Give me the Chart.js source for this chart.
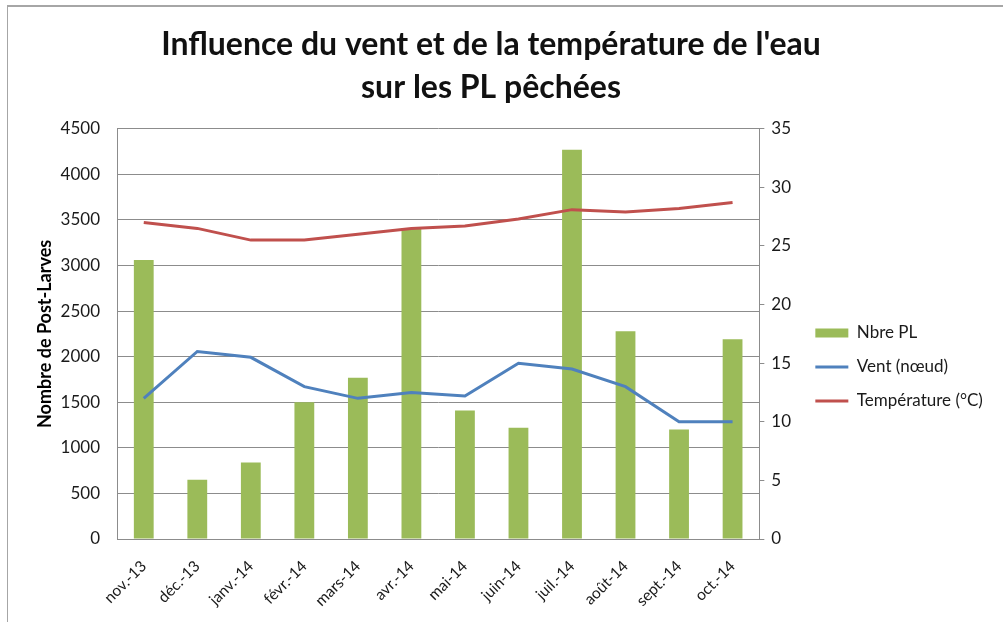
<!DOCTYPE html>
<html>
<head>
<meta charset="utf-8">
<script src="https://cdn.jsdelivr.net/npm/chart.js@4"></script>
<style>
  html, body { margin: 0; padding: 0; background: #fff; }
  #wrap { position: relative; width: 1003px; height: 622px; }
  #frame { position: absolute; left: 7px; top: 5px; right: 0; bottom: 0;
           border-top: 2px solid #a6a6a6; border-left: 1px solid #a6a6a6; }
  canvas { position: absolute; left: 0; top: 0; }
</style>
</head>
<body>
<div id="wrap">
  <div id="frame"></div>
  <canvas id="chart" width="1003" height="622"></canvas>
</div>
<script>
var months = ['nov.-13', 'déc.-13', 'janv.-14', 'févr.-14', 'mars-14', 'avr.-14',
              'mai-14', 'juin-14', 'juil.-14', 'août-14', 'sept.-14', 'oct.-14'];
var nbrePL = [3060, 650, 840, 1500, 1770, 3410, 1410, 1220, 4270, 2280, 1200, 2190];
var vent = [12, 16, 15.5, 13, 12, 12.5, 12.2, 15, 14.5, 13, 10, 10];
var temperature = [27, 26.5, 25.5, 25.5, 26, 26.5, 26.7, 27.3, 28.1, 27.9, 28.2, 28.7];

var green = '#9bbb59';
var blue = '#4f81bd';
var red = '#c0504d';
var gridColor = '#8c8c8c';
var textColor = '#1a1a1a';
var font = 'Lato, "Open Sans", sans-serif';

var plainNumber = function(value) { return String(value); };

// the legend box is capped narrow by the layout, let it draw up to the canvas edge
var legendFullWidth = {
  id: 'legendFullWidth',
  afterLayout: function(chart) {
    if (chart.legend) {
      chart.legend.right = chart.width;
    }
  }
};

var ctx = document.getElementById('chart').getContext('2d');
var chart = new Chart(ctx, {
  data: {
    labels: months,
    datasets: [
      {
        type: 'bar',
        label: 'Nbre PL',
        data: nbrePL,
        backgroundColor: green,
        borderWidth: 0,
        yAxisID: 'y',
        barPercentage: 0.37,
        categoryPercentage: 1,
        order: 2,
        pointStyle: 'rect'
      },
      {
        type: 'line',
        label: 'Vent (nœud)',
        data: vent,
        borderColor: blue,
        backgroundColor: blue,
        borderWidth: 3,
        pointRadius: 0,
        tension: 0,
        yAxisID: 'y1',
        order: 1,
        pointStyle: 'line'
      },
      {
        type: 'line',
        label: 'Température (°C)',
        data: temperature,
        borderColor: red,
        backgroundColor: red,
        borderWidth: 3,
        pointRadius: 0,
        tension: 0,
        yAxisID: 'y1',
        order: 0,
        pointStyle: 'line'
      }
    ]
  },
  plugins: [legendFullWidth],
  options: {
    responsive: false,
    animation: false,
    layout: { padding: { left: 30, top: 10, right: 51, bottom: 0 } },
    plugins: {
      title: {
        display: true,
        text: ["Influence du vent et de la température de l'eau", 'sur les PL pêchées'],
        color: '#111',
        font: { family: font, size: 32, weight: 'bold', lineHeight: 1.34 },
        padding: { top: 13.5, bottom: 19.5 }
      },
      legend: {
        position: 'right',
        // empty legend title only pushes the items down to sit beside the plot
        title: { display: true, text: '', font: { size: 10, lineHeight: 1 }, padding: { top: 92, bottom: 0 } },
        labels: {
          usePointStyle: true,
          pointStyleWidth: 33,
          boxHeight: 9,
          padding: 17,
          color: textColor,
          font: { family: font, size: 17 },
          sort: function(a, b) { return a.datasetIndex - b.datasetIndex; }
        }
      },
      tooltip: { enabled: false }
    },
    scales: {
      x: {
        grid: { display: false, drawTicks: false },
        border: { color: gridColor, width: 1 },
        ticks: {
          color: textColor,
          font: { family: font, size: 15.5 },
          maxRotation: 45,
          minRotation: 45,
          padding: 18
        },
        afterFit: function(axis) { axis.height = 83; }
      },
      y: {
        position: 'left',
        min: 0,
        max: 4500,
        grid: { color: gridColor, drawTicks: false },
        border: { color: gridColor, width: 1 },
        ticks: {
          stepSize: 500,
          color: textColor,
          font: { family: font, size: 17 },
          padding: 17,
          callback: plainNumber
        },
        title: {
          display: true,
          text: 'Nombre de Post-Larves',
          color: '#000',
          font: { family: font, size: 18, weight: 'bold' },
          padding: 4
        },
        afterFit: function(axis) { axis.width = 87; }
      },
      y1: {
        position: 'right',
        min: 0,
        max: 35,
        grid: { drawOnChartArea: false, color: gridColor, tickLength: 5 },
        border: { color: gridColor, width: 1 },
        ticks: {
          stepSize: 5,
          color: textColor,
          font: { family: font, size: 17 },
          padding: 7,
          callback: plainNumber
        },
        afterFit: function(axis) { axis.width = 39; }
      }
    }
  }
});
</script>
</body>
</html>
